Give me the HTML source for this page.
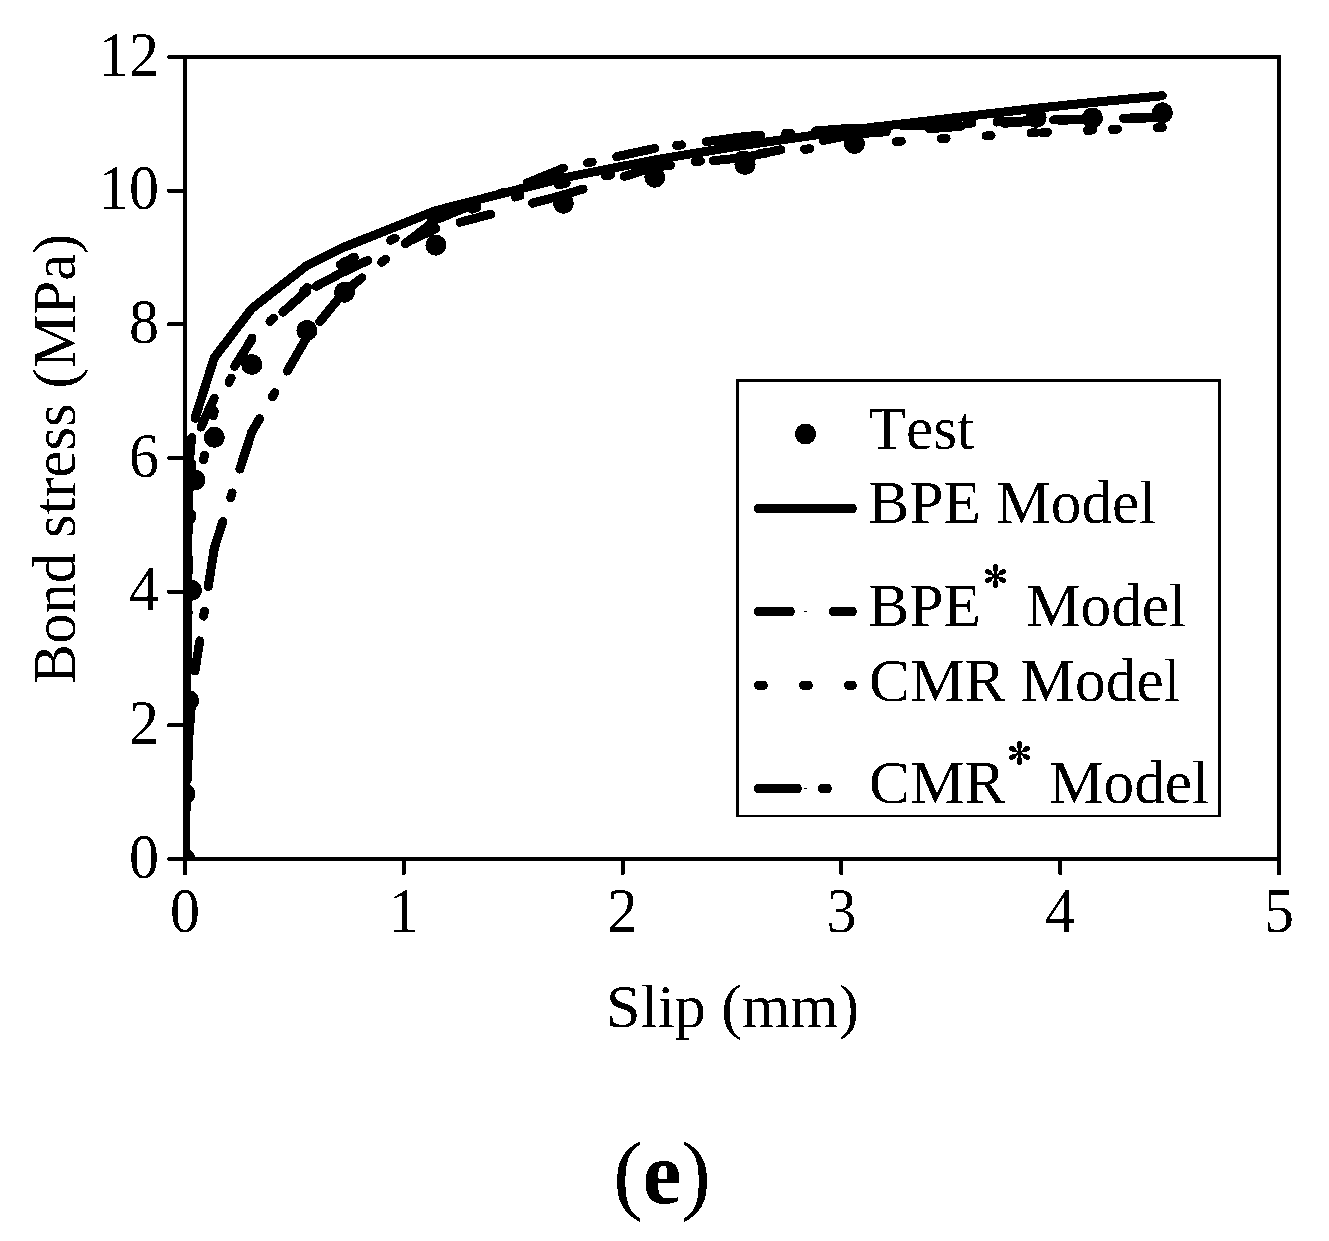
<!DOCTYPE html>
<html><head><meta charset="utf-8"><style>
html,body{margin:0;padding:0;background:#fff;}
svg{display:block;}
text{font-kerning:none;}
</style></head><body>
<svg width="1329" height="1241" viewBox="0 0 1329 1241">
<rect width="1329" height="1241" fill="#fff"/>
<filter id="bw" filterUnits="userSpaceOnUse" x="0" y="0" width="1329" height="1241"><feComponentTransfer><feFuncA type="discrete" tableValues="0 1"/></feComponentTransfer></filter>
<g filter="url(#bw)">
<defs><clipPath id="pc"><rect x="185" y="57" width="1094" height="802"/></clipPath></defs>
<g clip-path="url(#pc)" fill="none" stroke="#000" stroke-width="9" stroke-linecap="round" stroke-linejoin="round">
<polyline points="185.0,859.0 185.0,859.0 188.6,469.1 191.6,437.6"/>
<polyline points="195.0,418.3 214.3,357.7 251.8,308.5 306.9,265.5 344.5,247.0 435.9,210.5 563.4,177.8 654.8,159.9 745.0,145.0 854.4,129.5 1036.0,108.2 1092.4,102.5 1162.4,95.7"/>
<g><g stroke-dasharray="32 43"><line x1="188.6" y1="493.2" x2="185.0" y2="859.0"/><line x1="191.6" y1="463.7" x2="188.6" y2="493.2"/><line x1="214.3" y1="398.0" x2="195.0" y2="440.0"/><line x1="251.8" y1="339.5" x2="214.3" y2="398.0"/><line x1="306.9" y1="291.0" x2="251.8" y2="339.5"/><line x1="344.5" y1="271.3" x2="306.9" y2="291.0"/><line x1="435.9" y1="228.6" x2="344.5" y2="271.3"/><line x1="563.4" y1="195.0" x2="435.9" y2="228.6"/><line x1="654.8" y1="167.0" x2="563.4" y2="195.0"/><line x1="745.0" y1="157.4" x2="654.8" y2="167.0"/><line x1="854.4" y1="134.0" x2="745.0" y2="157.4"/><line x1="1036.0" y1="121.0" x2="854.4" y2="134.0"/><line x1="1092.4" y1="119.0" x2="1036.0" y2="121.0"/><line x1="1162.4" y1="117.5" x2="1092.4" y2="119.0"/></g></g>
<g><g stroke-dasharray="5 40"><line x1="188.6" y1="566.0" x2="185.0" y2="859.0"/><line x1="191.6" y1="514.0" x2="188.6" y2="566.0"/><line x1="214.3" y1="411.0" x2="195.0" y2="498.0"/><line x1="251.8" y1="338.0" x2="214.3" y2="411.0"/><line x1="306.9" y1="287.7" x2="251.8" y2="338.0"/><line x1="344.5" y1="261.8" x2="306.9" y2="287.7"/><line x1="435.9" y1="219.1" x2="344.5" y2="261.8"/><line x1="563.4" y1="183.6" x2="435.9" y2="219.1"/><line x1="654.8" y1="167.0" x2="563.4" y2="183.6"/><line x1="745.0" y1="155.0" x2="654.8" y2="167.0"/><line x1="854.4" y1="144.3" x2="745.0" y2="155.0"/><line x1="1036.0" y1="132.7" x2="854.4" y2="144.3"/><line x1="1092.4" y1="130.1" x2="1036.0" y2="132.7"/><line x1="1162.4" y1="127.4" x2="1092.4" y2="130.1"/></g></g>
<g><g stroke-dasharray="39 25 5 25"><line x1="188.6" y1="740.2" x2="185.0" y2="859.0"/><line x1="191.6" y1="702.8" x2="188.6" y2="740.2"/><line x1="214.3" y1="548.0" x2="195.0" y2="670.9"/><line x1="251.8" y1="432.0" x2="214.3" y2="548.0"/><line x1="306.9" y1="337.3" x2="251.8" y2="432.0"/><line x1="344.5" y1="291.4" x2="306.9" y2="337.3"/><line x1="435.9" y1="219.7" x2="344.5" y2="291.4"/><line x1="563.4" y1="168.2" x2="435.9" y2="219.7"/><line x1="654.8" y1="148.4" x2="563.4" y2="168.2"/><line x1="745.0" y1="136.5" x2="654.8" y2="148.4"/><line x1="854.4" y1="127.9" x2="745.0" y2="136.5"/><line x1="1036.0" y1="120.5" x2="854.4" y2="127.9"/><line x1="1092.4" y1="118.8" x2="1036.0" y2="120.5"/><line x1="1162.4" y1="117.3" x2="1092.4" y2="118.8"/></g></g>
</g>
<g clip-path="url(#pc)" fill="#000"><circle cx="185" cy="859" r="10.5"/><circle cx="185" cy="794" r="10.5"/><circle cx="188.6" cy="700.5" r="10.5"/><circle cx="191.6" cy="590.3" r="10.5"/><circle cx="195" cy="480" r="10.5"/><circle cx="214.3" cy="437.3" r="10.5"/><circle cx="251.8" cy="364.5" r="10.5"/><circle cx="306.9" cy="330.4" r="10.5"/><circle cx="344.5" cy="292.2" r="10.5"/><circle cx="435.9" cy="245.2" r="10.5"/><circle cx="563.4" cy="203.3" r="10.5"/><circle cx="654.8" cy="177.3" r="10.5"/><circle cx="745" cy="164.5" r="10.5"/><circle cx="854.4" cy="143.6" r="10.5"/><circle cx="1036" cy="117.5" r="10.5"/><circle cx="1092.4" cy="118" r="10.5"/><circle cx="1162.4" cy="112.8" r="10.5"/></g>
<rect x="185" y="57" width="1094" height="802" fill="none" stroke="#000" stroke-width="4"/>
<g stroke="#000" stroke-width="4" stroke-linecap="round"><line x1="169" y1="859.0" x2="185" y2="859.0"/><line x1="169" y1="725.3" x2="185" y2="725.3"/><line x1="169" y1="591.7" x2="185" y2="591.7"/><line x1="169" y1="458.0" x2="185" y2="458.0"/><line x1="169" y1="324.3" x2="185" y2="324.3"/><line x1="169" y1="190.7" x2="185" y2="190.7"/><line x1="169" y1="57.0" x2="185" y2="57.0"/><line x1="185.0" y1="859" x2="185.0" y2="873.5"/><line x1="403.8" y1="859" x2="403.8" y2="873.5"/><line x1="622.6" y1="859" x2="622.6" y2="873.5"/><line x1="841.4" y1="859" x2="841.4" y2="873.5"/><line x1="1060.2" y1="859" x2="1060.2" y2="873.5"/><line x1="1279.0" y1="859" x2="1279.0" y2="873.5"/></g>
<g font-family='"Liberation Serif", serif' font-size="60" fill="#000"><text x="159" y="0" text-anchor="end" transform="translate(0 877.5) scale(1 1.05)">0</text><text x="159" y="0" text-anchor="end" transform="translate(0 743.8) scale(1 1.05)">2</text><text x="159" y="0" text-anchor="end" transform="translate(0 610.2) scale(1 1.05)">4</text><text x="159" y="0" text-anchor="end" transform="translate(0 476.5) scale(1 1.05)">6</text><text x="159" y="0" text-anchor="end" transform="translate(0 342.8) scale(1 1.05)">8</text><text x="159" y="0" text-anchor="end" transform="translate(0 209.2) scale(1 1.05)">10</text><text x="159" y="0" text-anchor="end" transform="translate(0 75.5) scale(1 1.05)">12</text><text x="185.0" y="0" text-anchor="middle" transform="translate(0 932) scale(1 1.05)">0</text><text x="403.8" y="0" text-anchor="middle" transform="translate(0 932) scale(1 1.05)">1</text><text x="622.6" y="0" text-anchor="middle" transform="translate(0 932) scale(1 1.05)">2</text><text x="841.4" y="0" text-anchor="middle" transform="translate(0 932) scale(1 1.05)">3</text><text x="1060.2" y="0" text-anchor="middle" transform="translate(0 932) scale(1 1.05)">4</text><text x="1279.0" y="0" text-anchor="middle" transform="translate(0 932) scale(1 1.05)">5</text></g>
<text x="732.5" y="1026.5" text-anchor="middle" font-family='"Liberation Serif", serif' font-size="62">Slip (mm)</text>
<text transform="translate(75 459) rotate(-90)" x="0" y="0" text-anchor="middle" font-family='"Liberation Serif", serif' font-size="60.5">Bond stress (MPa)</text>
<text x="662" y="1202.5" text-anchor="middle" font-family='"Liberation Serif", serif' font-size="88">(<tspan font-weight="bold">e</tspan>)</text>
<g fill="#000"><rect x="736" y="379" width="485" height="3"/><rect x="736" y="815" width="485" height="2"/><rect x="736" y="379" width="3" height="438"/><rect x="1218" y="379" width="3" height="438"/></g>
<circle cx="805.5" cy="434" r="10.5" fill="#000"/>
<g stroke="#000" stroke-width="9" stroke-linecap="round" fill="none">
<line x1="758.5" y1="508.5" x2="852.5" y2="508.5"/>
<line x1="758.5" y1="611.5" x2="790.5" y2="611.5"/><line x1="833.5" y1="611.5" x2="852.5" y2="611.5"/>
<line x1="758.5" y1="685.4" x2="763.5" y2="685.4"/><line x1="803.5" y1="685.4" x2="808.5" y2="685.4"/><line x1="848.5" y1="685.4" x2="852.5" y2="685.4"/>
<line x1="758.5" y1="788.5" x2="797.5" y2="788.5"/><line x1="822.5" y1="788.5" x2="827.5" y2="788.5"/>
</g>
<rect x="804" y="611" width="2.5" height="1.2" fill="#000"/><rect x="804" y="788" width="2.5" height="1.2" fill="#000"/>
<text x="868.5" y="449.3" font-family='"Liberation Serif", serif' font-size="61.3" style="font-kerning:none">Test</text>
<text x="868.5" y="522.5" font-family='"Liberation Serif", serif' font-size="61.3" style="font-kerning:none">BPE Model</text>
<text x="868.5" y="625.5" font-family='"Liberation Serif", serif' font-size="61.3" style="font-kerning:none">BPE</text><text x="1026" y="625.5" font-family='"Liberation Serif", serif' font-size="61.3" style="font-kerning:none">Model</text>
<g transform="translate(995.5 576)" fill="#000"><g transform="rotate(0)"><path d="M-0.8,0 L0.8,0 L1.3,-5 L-1.3,-5 Z"/><ellipse cx="0" cy="-8.1" rx="2.6" ry="3.9"/></g><g transform="rotate(60)"><path d="M-0.8,0 L0.8,0 L1.3,-5 L-1.3,-5 Z"/><ellipse cx="0" cy="-8.1" rx="2.6" ry="3.9"/></g><g transform="rotate(120)"><path d="M-0.8,0 L0.8,0 L1.3,-5 L-1.3,-5 Z"/><ellipse cx="0" cy="-8.1" rx="2.6" ry="3.9"/></g><g transform="rotate(180)"><path d="M-0.8,0 L0.8,0 L1.3,-5 L-1.3,-5 Z"/><ellipse cx="0" cy="-8.1" rx="2.6" ry="3.9"/></g><g transform="rotate(240)"><path d="M-0.8,0 L0.8,0 L1.3,-5 L-1.3,-5 Z"/><ellipse cx="0" cy="-8.1" rx="2.6" ry="3.9"/></g><g transform="rotate(300)"><path d="M-0.8,0 L0.8,0 L1.3,-5 L-1.3,-5 Z"/><ellipse cx="0" cy="-8.1" rx="2.6" ry="3.9"/></g></g>
<g transform="translate(1019.5 752.9)" fill="#000"><g transform="rotate(0)"><path d="M-0.8,0 L0.8,0 L1.3,-5 L-1.3,-5 Z"/><ellipse cx="0" cy="-8.1" rx="2.6" ry="3.9"/></g><g transform="rotate(60)"><path d="M-0.8,0 L0.8,0 L1.3,-5 L-1.3,-5 Z"/><ellipse cx="0" cy="-8.1" rx="2.6" ry="3.9"/></g><g transform="rotate(120)"><path d="M-0.8,0 L0.8,0 L1.3,-5 L-1.3,-5 Z"/><ellipse cx="0" cy="-8.1" rx="2.6" ry="3.9"/></g><g transform="rotate(180)"><path d="M-0.8,0 L0.8,0 L1.3,-5 L-1.3,-5 Z"/><ellipse cx="0" cy="-8.1" rx="2.6" ry="3.9"/></g><g transform="rotate(240)"><path d="M-0.8,0 L0.8,0 L1.3,-5 L-1.3,-5 Z"/><ellipse cx="0" cy="-8.1" rx="2.6" ry="3.9"/></g><g transform="rotate(300)"><path d="M-0.8,0 L0.8,0 L1.3,-5 L-1.3,-5 Z"/><ellipse cx="0" cy="-8.1" rx="2.6" ry="3.9"/></g></g>
<text x="869" y="700.6" font-family='"Liberation Serif", serif' font-size="61.3" style="font-kerning:none">CMR Model</text>
<text x="869" y="803.4" font-family='"Liberation Serif", serif' font-size="61.3" style="font-kerning:none">CMR</text><text x="1049" y="803.4" font-family='"Liberation Serif", serif' font-size="61.3" style="font-kerning:none">Model</text>
</g>
</svg>
</body></html>
